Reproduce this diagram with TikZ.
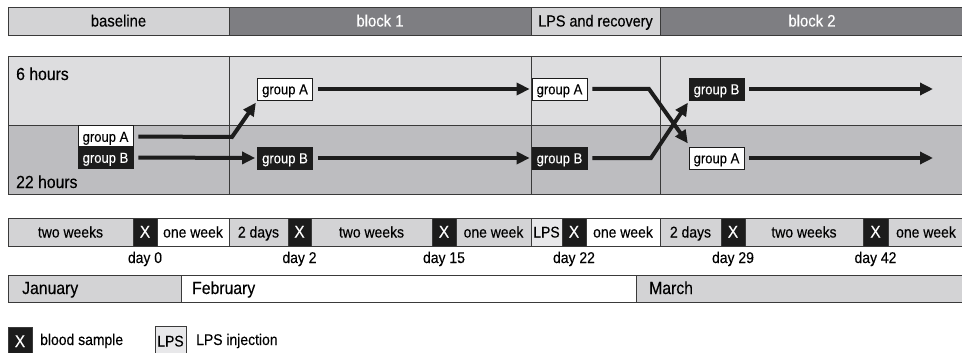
\documentclass[tikz,border=0pt]{standalone}
\usepackage{fontspec}
\setmainfont[FakeStretch=0.9,FakeBold=0.25]{Liberation Sans}
\usetikzlibrary{arrows.meta,calc}
\definecolor{hdrlight}{HTML}{D3D3D5}
\definecolor{hdrdark}{HTML}{7E7E82}
\definecolor{bandup}{HTML}{DDDDDF}
\definecolor{banddn}{HTML}{BDBDC0}
\definecolor{seggray}{HTML}{D3D3D5}
\definecolor{lpsgray}{HTML}{E8E8EA}
\definecolor{blk}{HTML}{1C1C1C}
\definecolor{edge}{HTML}{3A3A3A}
\newcommand{\cell}[9]{%
  \node[draw=edge, line width=0.8pt, fill=#6, text=#7, inner sep=0pt, outer sep=0pt,
        text height=11pt, text depth=0pt,
        minimum width={#3pt-#2pt}, minimum height={#5pt-#4pt}, font=#9]
        (#1) at ({(#2+#3)/2},{(#4+#5)/2}) {#8};}
\newcommand{\hdrf}{\fontsize{16.5}{18}\selectfont}
\newcommand{\segf}{\fontsize{15.5}{17}\selectfont}
\newcommand{\xf}{\fontsize{17}{19}\selectfont}
\tikzset{
  grp/.style={draw=blk, line width=0.7pt, inner sep=0pt, minimum width=55pt, minimum height=22pt,
              text height=10.6pt, text depth=0pt, font=\fontsize{14.5}{16}\selectfont},
  grpw/.style={grp, fill=white, text=black},
  grpb/.style={grp, fill=blk, text=white},
  arr/.style={draw=blk, line width=4pt, line join=miter,
              -{Triangle[length=13pt,width=12pt]}, shorten <=5pt, shorten >=2pt},
  lbl/.style={inner sep=0pt, anchor=base, font=\segf},
  bandlbl/.style={inner sep=0pt, anchor=base west, font=\fontsize{17.5}{20}\selectfont},
}
\begin{document}
\begin{tikzpicture}[x=1pt,y=-1pt]
\useasboundingbox (0,0) rectangle (962,353);
% header bar
\cell{hb}{8}{229}{7}{35}{hdrlight}{black}{baseline}{\hdrf}
\cell{h1}{229}{531}{7}{35}{hdrdark}{white}{block 1}{\hdrf}
\cell{hl}{531}{660}{7}{35}{hdrlight}{black}{LPS and recovery}{\fontsize{16}{18}\selectfont}
\cell{h2}{660}{964}{7}{35}{hdrdark}{white}{block 2}{\hdrf}
% main panel
\fill[bandup] (8,56) rectangle (962,125);
\fill[banddn] (8,125) rectangle (962,194);
\draw[edge, line width=0.8pt] (8,56) rectangle (964,194);
\draw[edge, line width=0.7pt] (8,125) -- (962,125);
\draw[edge, line width=0.7pt] (229,56) -- (229,194);
\draw[edge, line width=0.7pt] (531,56) -- (531,194);
\draw[edge, line width=0.7pt] (660,56) -- (660,194);
\node[bandlbl] (six) at (16,80) {6 hours};
\node[bandlbl] (twentytwo) at (16,188) {22 hours};
% groups
\node[grpw] (bA) at (105.5,136.5) {group A};
\node[grpb] (bB) at (105.5,157.5) {group B};
\node[grpw] (oA) at (285,89) {group A};
\node[grpb] (oB) at (285,158) {group B};
\node[grpw] (lA) at (559.5,89) {group A};
\node[grpb] (lB) at (559.5,158) {group B};
\node[grpb] (tB) at (716.5,89) {group B};
\node[grpw] (tA) at (716.5,158) {group A};
\coordinate (c1) at (232,137);
\coordinate (c1t) at (257,101);
\coordinate (c2) at (649,89);
\coordinate (c2t) at (689,145);
\coordinate (c3) at (651,158);
\coordinate (c3t) at (689,101);
\coordinate (e1) at (935,89);
\coordinate (e2) at (935,158);
\draw[arr] (bA.east) -- (c1) -- (c1t);
\draw[arr] (bB.east) -- (oB.west);
\draw[arr] (oA.east) -- (lA.west);
\draw[arr] (oB.east) -- (lB.west);
\draw[arr] (lA.east) -- (c2) -- (c2t);
\draw[arr] (lB.east) -- (c3) -- (c3t);
\draw[arr] (tB.east) -- (e1);
\draw[arr] (tA.east) -- (e2);
% timeline
\cell{t1}{8}{133}{218}{246}{seggray}{black}{two weeks}{\segf}
\cell{x1}{133}{157}{218}{246}{blk}{white}{X}{\xf}
\cell{t2}{157}{229}{218}{246}{white}{black}{one week}{\segf}
\cell{t3}{229}{288}{218}{246}{seggray}{black}{2 days}{\segf}
\cell{x2}{288}{311}{218}{246}{blk}{white}{X}{\xf}
\cell{t4}{311}{432}{218}{246}{seggray}{black}{two weeks}{\segf}
\cell{x3}{432}{456}{218}{246}{blk}{white}{X}{\xf}
\cell{t5}{456}{531}{218}{246}{seggray}{black}{one week}{\segf}
\cell{t6}{531}{562}{218}{246}{lpsgray}{black}{LPS}{\segf}
\cell{x4}{562}{586}{218}{246}{blk}{white}{X}{\xf}
\cell{t7}{586}{660}{218}{246}{white}{black}{one week}{\segf}
\cell{t8}{660}{721}{218}{246}{seggray}{black}{2 days}{\segf}
\cell{x5}{721}{745}{218}{246}{blk}{white}{X}{\xf}
\cell{t9}{745}{863}{218}{246}{seggray}{black}{two weeks}{\segf}
\cell{x6}{863}{888}{218}{246}{blk}{white}{X}{\xf}
\cell{t10}{888}{964}{218}{246}{seggray}{black}{one week}{\segf}
\node[lbl] (d0) at ($(x1.south)+(0,17)$) {day 0};
\node[lbl] (d2) at ($(x2.south)+(0,17)$) {day 2};
\node[lbl] (d15) at ($(x3.south)+(0,17)$) {day 15};
\node[lbl] (d22) at ($(x4.south)+(0,17)$) {day 22};
\node[lbl] (d29) at ($(x5.south)+(0,17)$) {day 29};
\node[lbl] (d42) at ($(x6.south)+(0,17)$) {day 42};
% months
\cell{m1}{8}{181}{275}{302}{seggray}{black}{}{\segf}
\cell{m2}{181}{636}{275}{302}{white}{black}{}{\segf}
\cell{m3}{636}{964}{275}{302}{seggray}{black}{}{\segf}
\node[bandlbl] (jan) at (22,294) {January};
\node[bandlbl] (feb) at (192,294) {February};
\node[bandlbl] (mar) at (649,294) {March};
% legend
\cell{lx}{8}{32}{327}{356}{blk}{white}{X}{\xf}
\node[lbl, anchor=base west] (lxt) at (40,345) {blood sample};
\cell{lp}{155}{186}{326}{356}{lpsgray}{black}{LPS}{\segf}
\node[lbl, anchor=base west] (lpt) at (196,345) {LPS injection};
\end{tikzpicture}
\end{document}
